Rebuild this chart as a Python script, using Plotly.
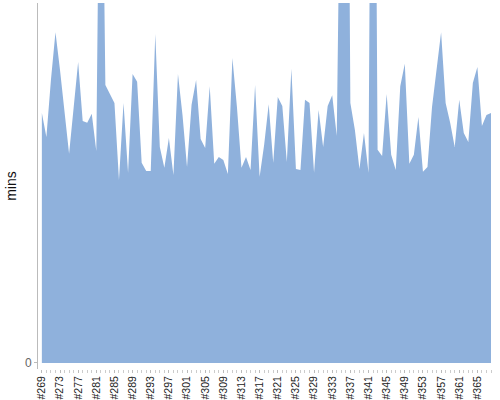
# Area chart of minutes per run (#269 - #368)

import plotly.graph_objects as go

# run labels
runs = ["#%d" % n for n in range(269, 369)]

# minutes per run (values above 100 run off the top of the chart)
mins = [69.4, 62.8, 78.6, 91.9, 81.4, 69.7, 58.1, 70.8, 83.6, 67.2,
        66.7, 69.2, 58.9, 184.0, 77.2, 74.7, 72.2, 50.8, 72.2, 52.8,
        80.3, 78.1, 55.6, 53.3, 53.3, 91.4, 60.0, 54.2, 62.5, 52.2,
        80.3, 68.9, 54.4, 71.7, 78.6, 62.2, 59.7, 76.9, 55.3, 57.2,
        56.4, 52.5, 84.7, 71.1, 54.2, 57.2, 53.6, 77.2, 51.7, 60.6,
        71.9, 55.6, 73.9, 71.4, 55.8, 81.7, 53.9, 53.6, 73.1, 72.2,
        52.8, 70.3, 60.0, 71.4, 74.4, 63.1, 105.0, 267.0, 72.2, 64.7,
        53.9, 63.9, 52.8, 267.0, 59.2, 57.5, 74.7, 57.8, 53.6, 76.9,
        83.1, 55.3, 57.8, 68.3, 53.1, 54.4, 71.1, 81.4, 91.9, 72.2,
        66.7, 60.0, 73.1, 63.9, 61.4, 77.8, 82.2, 65.8, 68.9, 69.4]

# show every 4th run label
tick_idx = list(range(0, len(runs), 4))
tick_txt = [runs[i] for i in tick_idx]

fig = go.Figure()
fig.add_trace(go.Scatter(x=list(range(len(runs))), y=mins,
                         mode="lines", fill="tozeroy",
                         line=dict(width=0, color="#8fb1dc"),
                         fillcolor="#8fb1dc",
                         hovertext=runs, showlegend=False))

fig.update_layout(
    width=500, height=400,
    margin=dict(l=38, r=9, t=3, b=31),
    plot_bgcolor="white", paper_bgcolor="white",
    font=dict(family="Liberation Sans, Arial, sans-serif", color="#333"),
    xaxis=dict(range=[-0.85, 99], showgrid=False, zeroline=False,
               showline=False, automargin=False,
               tickvals=tick_idx, ticktext=tick_txt, tickangle=-90,
               ticks="outside", ticklen=3, tickcolor="#bbb",
               ticklabelstandoff=-1,
               tickfont=dict(size=10.5, color="#222"),
               minor=dict(dtick=1, tick0=0, ticks="outside", ticklen=3,
                          tickcolor="#ccc", showgrid=False)),
    yaxis=dict(range=[-1.7, 100], showgrid=False, zeroline=False,
               showline=True, linecolor="#bbb", linewidth=1,
               automargin=False,
               tickvals=[0], ticktext=["0"], ticks="outside", ticklen=3,
               tickcolor="#bbb", tickfont=dict(size=12, color="#666"),
               title=dict(text="mins", font=dict(size=14, color="#111"),
                          standoff=5)),
)

# drop the page's default body margin so the chart sits at the top-left
fig.write_html("out.html", config={"displayModeBar": False},
               post_script="document.body.style.margin='0';")
